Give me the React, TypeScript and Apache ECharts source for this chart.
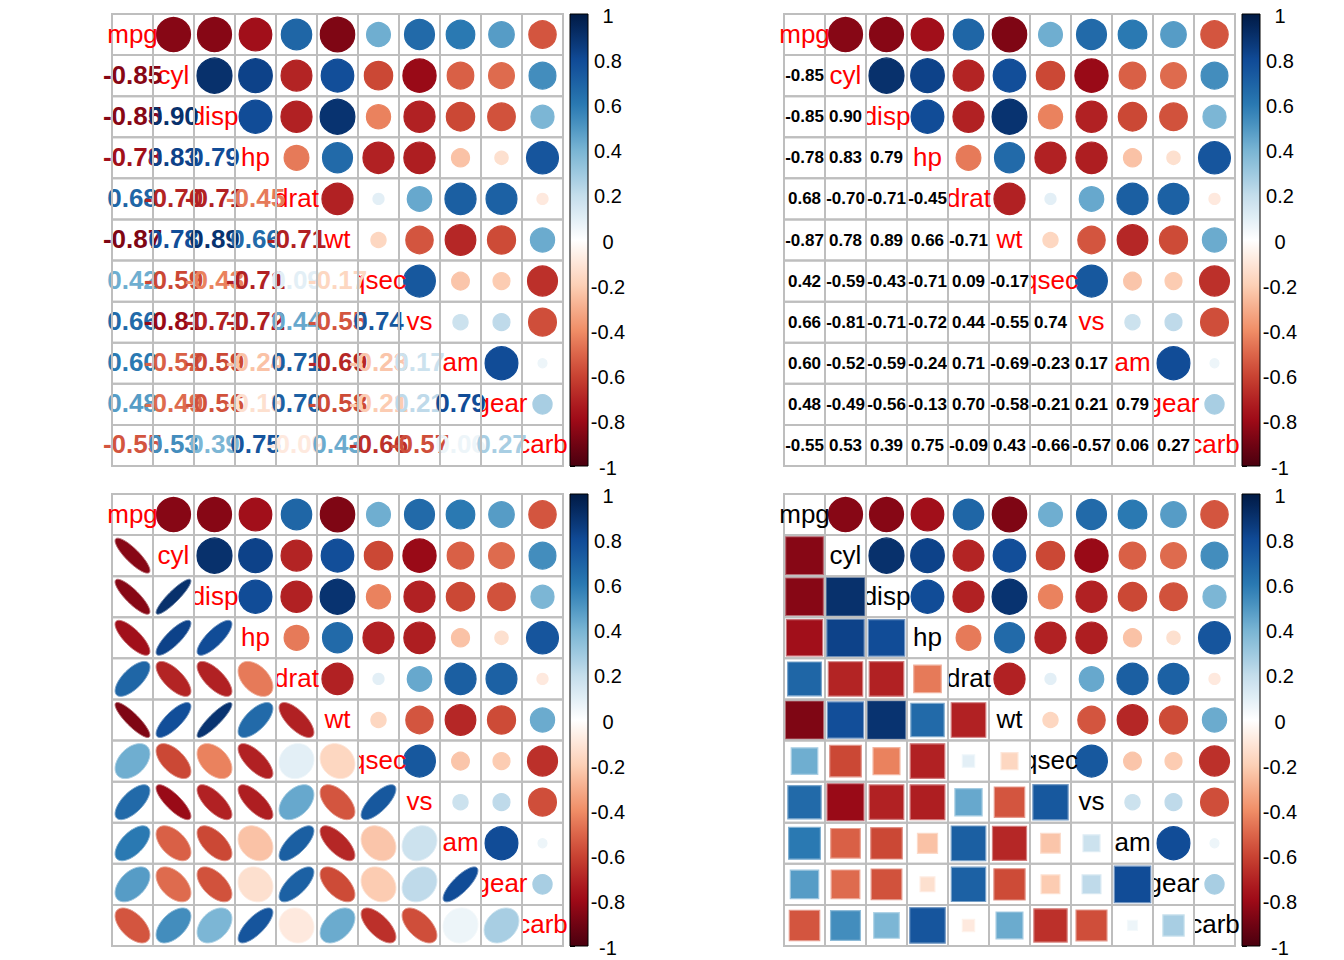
import React, { useEffect, useRef } from "react";
import * as echarts from "echarts";

// ---------- data (mtcars correlation matrix) ----------
const VARIABLES = ["mpg", "cyl", "disp", "hp", "drat", "wt", "qsec", "vs", "am", "gear", "carb"];
const corMpg = [1.0, -0.85, -0.85, -0.78, 0.68, -0.87, 0.42, 0.66, 0.6, 0.48, -0.55];
const corCyl = [-0.85, 1.0, 0.9, 0.83, -0.7, 0.78, -0.59, -0.81, -0.52, -0.49, 0.53];
const corDisp = [-0.85, 0.9, 1.0, 0.79, -0.71, 0.89, -0.43, -0.71, -0.59, -0.56, 0.39];
const corHp = [-0.78, 0.83, 0.79, 1.0, -0.45, 0.66, -0.71, -0.72, -0.24, -0.13, 0.75];
const corDrat = [0.68, -0.7, -0.71, -0.45, 1.0, -0.71, 0.09, 0.44, 0.71, 0.7, -0.09];
const corWt = [-0.87, 0.78, 0.89, 0.66, -0.71, 1.0, -0.17, -0.55, -0.69, -0.58, 0.43];
const corQsec = [0.42, -0.59, -0.43, -0.71, 0.09, -0.17, 1.0, 0.74, -0.23, -0.21, -0.66];
const corVs = [0.66, -0.81, -0.71, -0.72, 0.44, -0.55, 0.74, 1.0, 0.17, 0.21, -0.57];
const corAm = [0.6, -0.52, -0.59, -0.24, 0.71, -0.69, -0.23, 0.17, 1.0, 0.79, 0.06];
const corGear = [0.48, -0.49, -0.56, -0.13, 0.7, -0.58, -0.21, 0.21, 0.79, 1.0, 0.27];
const corCarb = [-0.55, 0.53, 0.39, 0.75, -0.09, 0.43, -0.66, -0.57, 0.06, 0.27, 1.0];
const CORRELATIONS = [corMpg, corCyl, corDisp, corHp, corDrat, corWt, corQsec, corVs, corAm, corGear, corCarb];

// RdBu palette (value -1 .. 1)
const PALETTE = ["#67001F", "#B2182B", "#D6604D", "#F4A582", "#FDDBC7", "#FFFFFF", "#D1E5F0", "#92C5DE", "#4393C3", "#2166AC", "#053061"];
const COLORBAR_MIN = -1;
const COLORBAR_MAX = 1;
const COLORBAR_INTERVAL = 0.2;

// ---------- helpers ----------
const GAMMA = 1.35;
function hexToRgb(h: string) {
  const n = parseInt(h.slice(1), 16);
  return [(n >> 16) & 255, (n >> 8) & 255, n & 255];
}
function mix(a: number[], b: number[], t: number) {
  return a.map((v, i) => v + (b[i] - v) * t);
}
function rgbStr(c: number[]) {
  return `rgb(${Math.round(c[0])},${Math.round(c[1])},${Math.round(c[2])})`;
}
function baseRgb(v: number) {
  const t = Math.max(0, Math.min(1, (v + 1) / 2)) * (PALETTE.length - 1);
  const i = Math.min(PALETTE.length - 2, Math.floor(t));
  const c = mix(hexToRgb(PALETTE[i]), hexToRgb(PALETTE[i + 1]), t - i);
  return c.map((x) => 255 * Math.pow(x / 255, GAMMA));
}
function colorFor(v: number) {
  return rgbStr(baseRgb(v));
}
function lighter(v: number, amt: number) {
  return rgbStr(mix(baseRgb(v), [255, 255, 255], amt));
}

const N = VARIABLES.length;
const upperCells: number[][] = [];
const upperGridCells: number[][] = [];
const diagCells: number[][] = [];
const lowerCells: number[][] = [];
for (let i = 0; i < N; i++) {
  for (let j = 0; j < N; j++) {
    const v = CORRELATIONS[i][j];
    if (j > i) upperCells.push([j, i, v]);
    if (j >= i) upperGridCells.push([j, i, v]);
    if (j === i) diagCells.push([j, i, i]);
    if (j < i) lowerCells.push([j, i, v]);
  }
}

const FONT = '"Liberation Sans", Arial, Helvetica, sans-serif';
const GRID_COLOR = "#BEBEBE";

type Panel = {
  left: number;
  top: number;
  lower: "number" | "ellipse" | "square";
  numberColored?: boolean;
  numberSize?: number;
  labelColor: string;
};

const PANELS: Panel[] = [
  { left: 112, top: 14, lower: "number", numberColored: true, numberSize: 26, labelColor: "#FF0000" },
  { left: 784, top: 14, lower: "number", numberColored: false, numberSize: 17, labelColor: "#FF0000" },
  { left: 112, top: 494, lower: "ellipse", labelColor: "#FF0000" },
  { left: 784, top: 494, lower: "square", labelColor: "#000000" },
];
const PANEL_W = 451;
const PANEL_H = 452;
const BAR_GAP = 7;
const BAR_W = 18;

function cellGeom(api: any) {
  const c = api.coord([api.value(0), api.value(1)]);
  const s = api.size([1, 1]);
  return { cx: c[0], cy: c[1], w: s[0], h: s[1] };
}

function buildOption() {
  const grid: any[] = [];
  const xAxis: any[] = [];
  const yAxis: any[] = [];
  const series: any[] = [];

  PANELS.forEach((p) => {
    const gi = grid.length;
    grid.push({ left: p.left, top: p.top, width: PANEL_W, height: PANEL_H });
    xAxis.push({ type: "category", gridIndex: gi, data: VARIABLES, show: false });
    yAxis.push({ type: "category", gridIndex: gi, data: VARIABLES, inverse: true, show: false });

    const base = { type: "custom", xAxisIndex: gi, yAxisIndex: gi, clip: false, silent: true };

    // upper circles
    series.push({
      ...base,
      z: 2,
      data: upperCells,
      renderItem: (params: any, api: any) => {
        const g = cellGeom(api);
        const v = api.value(2);
        const col = colorFor(v);
        return {
          type: "circle",
          shape: { cx: g.cx, cy: g.cy, r: 0.45 * Math.sqrt(Math.abs(v)) * Math.min(g.w, g.h) },
          style: { fill: col, stroke: col, lineWidth: 1.2 },
        };
      },
    });
    // upper grid
    series.push({
      ...base,
      z: 3,
      data: upperGridCells,
      renderItem: (params: any, api: any) => {
        const g = cellGeom(api);
        return {
          type: "rect",
          shape: { x: g.cx - g.w / 2, y: g.cy - g.h / 2, width: g.w, height: g.h },
          style: { fill: "none", stroke: GRID_COLOR, lineWidth: 2 },
        };
      },
    });
    // diagonal labels
    series.push({
      ...base,
      z: 4,
      data: diagCells,
      renderItem: (params: any, api: any) => {
        const g = cellGeom(api);
        return {
          type: "text",
          x: g.cx,
          y: g.cy - 1,
          style: {
            text: VARIABLES[api.value(2)],
            fill: p.labelColor,
            fontSize: 26,
            fontFamily: FONT,
            align: "center",
            verticalAlign: "middle",
            textAlign: "center",
            textVerticalAlign: "middle",
          },
        };
      },
    });
    // lower white background (masks label overflow)
    series.push({
      ...base,
      z: 5,
      data: lowerCells,
      renderItem: (params: any, api: any) => {
        const g = cellGeom(api);
        return {
          type: "rect",
          shape: { x: g.cx - g.w / 2, y: g.cy - g.h / 2, width: g.w, height: g.h },
          style: { fill: "#FFFFFF", stroke: "none" },
        };
      },
    });
    // lower glyphs
    series.push({
      ...base,
      z: 6,
      data: lowerCells,
      renderItem: (params: any, api: any) => {
        const g = cellGeom(api);
        const v = api.value(2);
        const col = colorFor(v);
        if (p.lower === "number") {
          return {
            type: "text",
            x: g.cx,
            y: g.cy - (p.numberSize === 26 ? 1 : 0),
            style: {
              text: v.toFixed(2),
              fill: p.numberColored ? col : "#000000",
              fontSize: p.numberSize,
              fontWeight: "bold",
              fontFamily: FONT,
              align: "center",
              verticalAlign: "middle",
              textAlign: "center",
              textVerticalAlign: "middle",
            },
          };
        }
        if (p.lower === "ellipse") {
          const a = Math.acos(Math.max(-1, Math.min(1, v)));
          const pts: number[][] = [];
          const M = 72;
          for (let k = 0; k < M; k++) {
            const t = (2 * Math.PI * k) / M;
            pts.push([
              g.cx + ((0.85 * Math.cos(t + a / 2)) / 2) * g.w,
              g.cy - ((0.85 * Math.cos(t - a / 2)) / 2) * g.h,
            ]);
          }
          return {
            type: "polygon",
            shape: { points: pts },
            style: { fill: col, stroke: lighter(v, 0.4), lineWidth: 1 },
          };
        }
        const side = Math.sqrt(Math.abs(v)) * Math.min(g.w, g.h);
        return {
          type: "rect",
          shape: { x: g.cx - side / 2, y: g.cy - side / 2, width: side, height: side },
          style: { fill: col, stroke: lighter(v, 0.4), lineWidth: 1.2 },
        };
      },
    });
    // lower grid
    series.push({
      ...base,
      z: 7,
      data: lowerCells,
      renderItem: (params: any, api: any) => {
        const g = cellGeom(api);
        return {
          type: "rect",
          shape: { x: g.cx - g.w / 2, y: g.cy - g.h / 2, width: g.w, height: g.h },
          style: { fill: "none", stroke: GRID_COLOR, lineWidth: 2 },
        };
      },
    });

    // colour bar
    const bi = grid.length;
    grid.push({ left: p.left + PANEL_W + BAR_GAP, top: p.top, width: BAR_W, height: PANEL_H });
    xAxis.push({ type: "value", gridIndex: bi, min: 0, max: 1, show: false });
    yAxis.push({
      type: "value",
      gridIndex: bi,
      min: COLORBAR_MIN,
      max: COLORBAR_MAX,
      interval: COLORBAR_INTERVAL,
      position: "right",
      axisLine: { show: false },
      splitLine: { show: false },
      axisTick: { show: true, length: 5, inside: false, lineStyle: { color: "#000000", width: 1 } },
      axisLabel: {
        show: true,
        color: "#000000",
        margin: 20,
        align: "center",
        verticalAlign: "middle",
        showMinLabel: true,
        showMaxLabel: true,
        formatter: (val: number) => `{t|${val}}`,
        rich: {
          t: {
            fontSize: 20,
            fontFamily: FONT,
            color: "#000000",
            padding: [3, 0, 0, 0],
          },
        },
      },
    });
    series.push({
      type: "custom",
      xAxisIndex: bi,
      yAxisIndex: bi,
      silent: true,
      z: 2,
      data: [[0, 0]],
      renderItem: (params: any, api: any) => {
        const topP = api.coord([0, COLORBAR_MAX]);
        const botP = api.coord([1, COLORBAR_MIN]);
        const steps = 40;
        const stops = [];
        for (let k = 0; k <= steps; k++) {
          const v = COLORBAR_MAX - ((COLORBAR_MAX - COLORBAR_MIN) * k) / steps;
          stops.push({ offset: k / steps, color: colorFor(v) });
        }
        return {
          type: "rect",
          shape: { x: topP[0], y: topP[1], width: botP[0] - topP[0], height: botP[1] - topP[1] },
          style: {
            fill: { type: "linear", x: 0, y: 0, x2: 0, y2: 1, colorStops: stops },
            stroke: "#000000",
            lineWidth: 1,
          },
        };
      },
    });
  });

  return { animation: false, backgroundColor: "#FFFFFF", grid, xAxis, yAxis, series };
}

export default function App() {
  const ref = useRef<HTMLDivElement>(null);
  useEffect(() => {
    if (!ref.current) return;
    const chart = echarts.init(ref.current, undefined, { renderer: "svg" });
    chart.setOption(buildOption() as any);
    return () => chart.dispose();
  }, []);
  return (
    <div
      ref={ref}
      style={{ position: "absolute", left: 0, top: 0, width: 1344, height: 960, background: "#FFFFFF" }}
    />
  );
}
